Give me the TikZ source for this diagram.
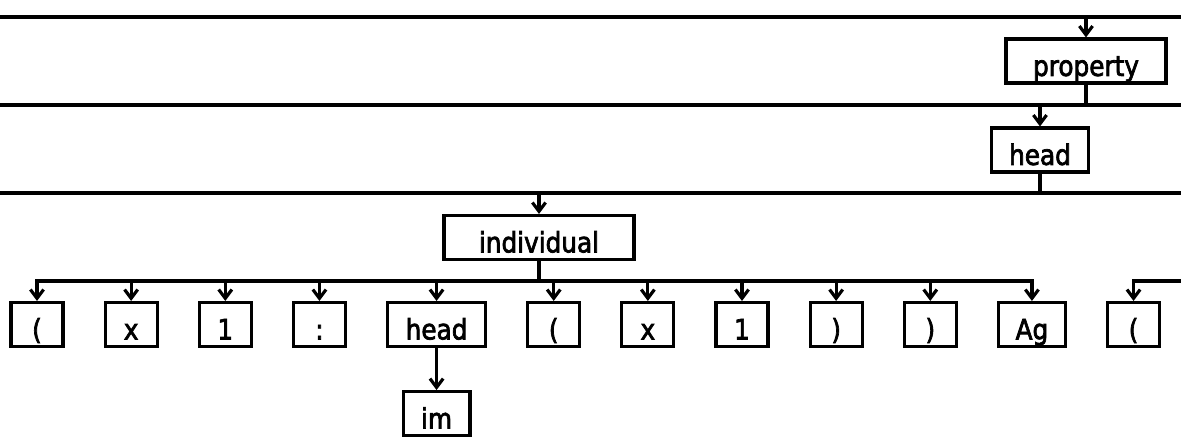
\documentclass[tikz,border=0pt]{standalone}
\usepackage{fontspec}
\setmainfont{DejaVu Sans}[FakeStretch=0.88,FakeBold=2.5]
\usetikzlibrary{positioning,arrows.meta}

\begin{document}
\begin{tikzpicture}[x=0.02cm, y=-0.02cm, line width=1.8pt, node distance = 0.78cm,
   box/.style = {draw, inner sep=0pt, text height=21pt, text depth=4pt, minimum width=1.04cm,
      font=\fontsize{16}{19}\selectfont},
   >={Straight Barb[length=5pt,width=7.5pt]}]
   \useasboundingbox (0,0) rectangle (1181,445);
   % rule lines
   \coordinate (l1w) at (0,17);  \coordinate (l1e) at (1181,17);
   \coordinate (l2w) at (0,105); \coordinate (l2e) at (1181,105);
   \coordinate (l3w) at (0,193); \coordinate (l3e) at (1181,193);
   \draw (l1w) -- (l1e);
   \draw (l2w) -- (l2e);
   \draw (l3w) -- (l3e);
   % upper boxes
   \node[box, minimum width=3.2cm] (prop) at (1086,61) {property};
   \node[box, minimum width=1.94cm] (hd) at (1040,150) {head};
   \node[box, minimum width=3.8cm] (ind) at (539,237.5) {individual};
   \draw[->] (prop.north |- l1w) -- (prop.north);
   \draw (prop.south) -- (prop.south |- l2w);
   \draw[->] (hd.north |- l2w) -- (hd.north);
   \draw (hd.south) -- (hd.south |- l3w);
   \draw[->] (ind.north |- l3w) -- (ind.north);
   % token row
   \node[box] (t1) at (37,324.5) {(};
   \node[box, right=of t1] (t2) {x};
   \node[box, right=of t2] (t3) {1};
   \node[box, right=of t3] (t4) {:};
   \node[box, minimum width=1.96cm, right=of t4] (t5) {head};
   \node[box, right=of t5] (t6) {(};
   \node[box, right=of t6] (t7) {x};
   \node[box, right=of t7] (t8) {1};
   \node[box, right=of t8] (t9) {)};
   \node[box, right=of t9] (t10) {)};
   \node[box, minimum width=1.34cm, right=of t10] (t11) {Ag};
   \node[box, right=of t11] (t12) {(};
   \node[box, minimum width=1.34cm, below=0.84cm of t5] (im) {im};
   % branches
   \coordinate (bus) at (ind.south |- 0,281);
   \coordinate (bus2) at (1181,281);
   \draw (ind.south) -- (bus);
   \foreach \t in {t1,t2,t3,t4,t5,t6,t7,t8,t9,t10,t11}
      \draw[->] (bus) -| (\t.north);
   \draw[->] (bus2) -| (t12.north);
   \draw[->] (t5.south) -- (im.north);
\end{tikzpicture}
\end{document}
